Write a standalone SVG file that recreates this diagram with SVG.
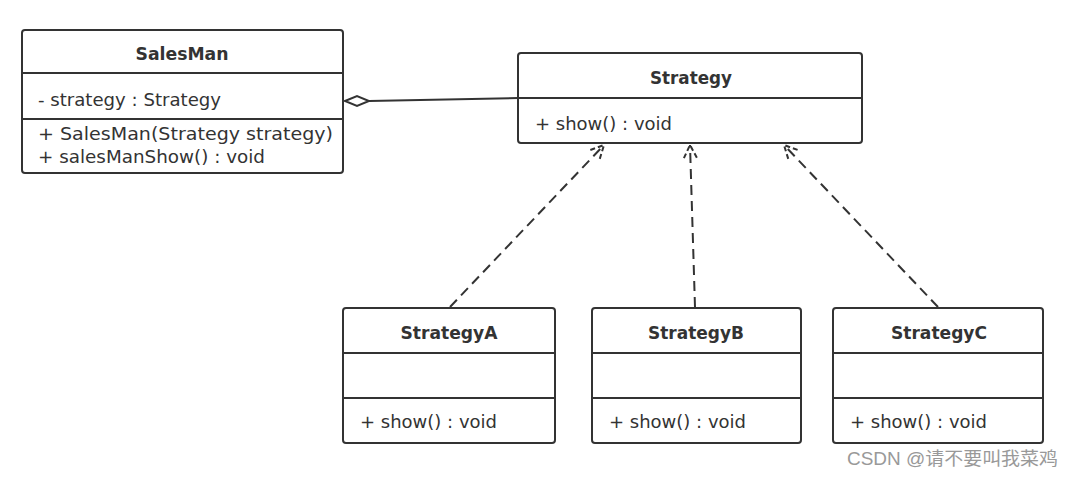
<svg xmlns="http://www.w3.org/2000/svg" width="1074" height="477" viewBox="0 0 1074 477">
<defs>
<style>
.box{fill:#fff;stroke:#333;stroke-width:2}
.sep{stroke:#333;stroke-width:2}
.t{font-family:"DejaVu Sans","Open Sans",sans-serif;font-size:17px;fill:#333}
.b{font-weight:bold;text-anchor:middle}
.dash{stroke:#333;stroke-width:2;fill:none;stroke-dasharray:10 6}
.wm{font-family:"Liberation Sans","Noto Sans CJK SC",sans-serif;font-size:18px;fill:#999}
</style>
<marker id="tri" markerWidth="18" markerHeight="16" refX="15" refY="8" orient="auto" markerUnits="userSpaceOnUse">
<path d="M2,1.5 L15,8 L2,14.5" fill="none" stroke="#333" stroke-width="2" stroke-dasharray="5 3"/>
</marker>
</defs>
<rect width="1074" height="477" fill="#fff"/>
<g id="connectors">
<path d="M369,101 L518,98" stroke="#333" stroke-width="2" fill="none"/>
<path d="M345,101 L357,96 L369,101 L357,106 Z" fill="#fff" stroke="#333" stroke-width="2"/>
<path class="dash" d="M450,307 L604,145" marker-end="url(#tri)"/>
<path class="dash" d="M695,307 L690,145" marker-end="url(#tri)"/>
<path class="dash" d="M938,307 L784,145" marker-end="url(#tri)"/>
</g>
<g id="SalesMan">
<rect class="box" x="22" y="30" width="321" height="143" rx="3"/>
<line class="sep" x1="22" y1="73" x2="343" y2="73"/>
<line class="sep" x1="22" y1="119" x2="343" y2="119"/>
<text class="t b" x="182" y="60" textLength="93" lengthAdjust="spacingAndGlyphs">SalesMan</text>
<text class="t" x="38" y="106" textLength="183" lengthAdjust="spacingAndGlyphs">- strategy : Strategy</text>
<text class="t" x="38" y="140" textLength="295" lengthAdjust="spacingAndGlyphs">+ SalesMan(Strategy strategy)</text>
<text class="t" x="38" y="163" textLength="227" lengthAdjust="spacingAndGlyphs">+ salesManShow() : void</text>
</g>
<g id="Strategy">
<rect class="box" x="518" y="53" width="344" height="90" rx="3"/>
<line class="sep" x1="518" y1="98" x2="862" y2="98"/>
<text class="t b" x="691" y="84" textLength="82" lengthAdjust="spacingAndGlyphs">Strategy</text>
<text class="t" x="535" y="130" textLength="137" lengthAdjust="spacingAndGlyphs">+ show() : void</text>
</g>
<g id="StrategyA">
<rect class="box" x="343" y="308" width="212" height="135" rx="3"/>
<line class="sep" x1="343" y1="353" x2="555" y2="353"/>
<line class="sep" x1="343" y1="398" x2="555" y2="398"/>
<text class="t b" x="449" y="339" textLength="97" lengthAdjust="spacingAndGlyphs">StrategyA</text>
<text class="t" x="360" y="428" textLength="137" lengthAdjust="spacingAndGlyphs">+ show() : void</text>
</g>
<g id="StrategyB">
<rect class="box" x="592" y="308" width="209" height="135" rx="3"/>
<line class="sep" x1="592" y1="353" x2="801" y2="353"/>
<line class="sep" x1="592" y1="398" x2="801" y2="398"/>
<text class="t b" x="696" y="339" textLength="96" lengthAdjust="spacingAndGlyphs">StrategyB</text>
<text class="t" x="609" y="428" textLength="137" lengthAdjust="spacingAndGlyphs">+ show() : void</text>
</g>
<g id="StrategyC">
<rect class="box" x="833" y="308" width="210" height="135" rx="3"/>
<line class="sep" x1="833" y1="353" x2="1043" y2="353"/>
<line class="sep" x1="833" y1="398" x2="1043" y2="398"/>
<text class="t b" x="939" y="339" textLength="96" lengthAdjust="spacingAndGlyphs">StrategyC</text>
<text class="t" x="850" y="428" textLength="137" lengthAdjust="spacingAndGlyphs">+ show() : void</text>
</g>
<text class="wm" x="847" y="465" textLength="211" lengthAdjust="spacingAndGlyphs">CSDN @请不要叫我菜鸡</text>
</svg>
